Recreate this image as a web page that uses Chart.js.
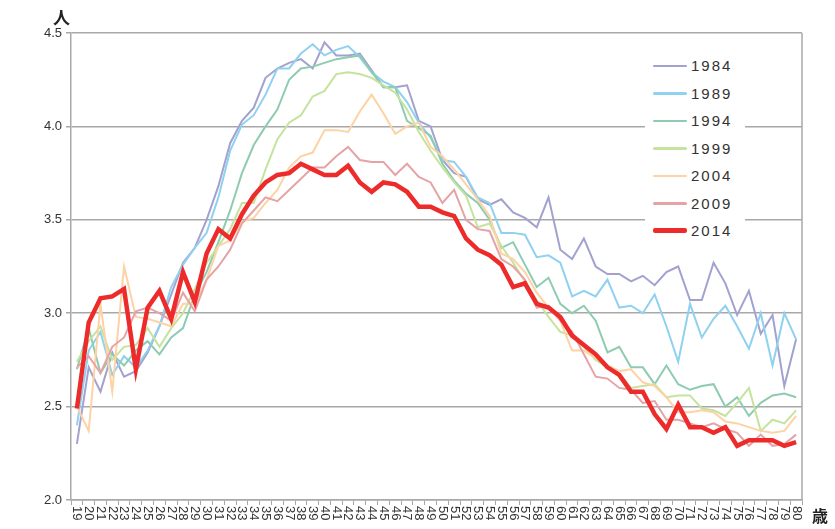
<!DOCTYPE html>
<html lang="ja">
<head>
<meta charset="utf-8"/>
<title>年齢別 平均世帯人員</title>
<script src="https://cdn.jsdelivr.net/npm/chart.js"></script>
<style>
  body { margin: 0; background: #fff; font-family: "Liberation Sans", "Noto Sans", sans-serif; }
  #wrap { position: relative; width: 835px; height: 529px; }
  #unitY { position: absolute; left: 53px; top: 4px; font: bold 17px "Noto Sans CJK JP", sans-serif; color: #222; }
  #unitX { position: absolute; left: 812px; top: 503px; font: bold 16px "Noto Sans CJK JP", sans-serif; color: #222; }
  #legend { position: absolute; left: 645px; top: 50px; width: 100px; height: 195px; background: #fff; padding-top: 2px; }
  .row { height: 27.5px; display: flex; align-items: center; }
  .swatch { width: 34px; margin-left: 8px; margin-right: 4px; border-radius: 2px; }
  .lbl { font-size: 15px; letter-spacing: 2px; color: #333; }
</style>
</head>
<body>
<div id="wrap">
  <canvas id="grafik" width="835" height="529"></canvas>
  <div id="unitY">人</div>
  <div id="unitX">歳</div>
  <div id="legend"></div>
</div>
<script>
  // 年齢 (カテゴリ)
  const yaslar = [19,20,21,22,23,24,25,26,27,28,29,30,31,32,33,34,35,36,37,38,39,
    40,41,42,43,44,45,46,47,48,49,50,51,52,53,54,55,56,57,58,59,60,
    61,62,63,64,65,66,67,68,69,70,71,72,73,74,75,76,77,78,79,80];

  const yillar = ['1984', '1989', '1994', '1999', '2004', '2009', '2014'];
  const renkler = ['#a2a1cf', '#8fd1ef', '#8ecbb0', '#c6e39e', '#fdd2a4', '#e6a3a5', '#ee2b2b'];

  const v1984 = [2.30,2.71,2.58,2.79,2.66,2.69,2.79,2.93,3.10,3.27,3.35,
    3.50,3.68,3.91,4.03,4.10,4.26,4.31,4.34,4.36,4.31,
    4.45,4.38,4.38,4.39,4.30,4.21,4.21,4.22,4.03,4.00,
    3.82,3.75,3.73,3.61,3.58,3.61,3.54,3.51,3.46,3.62,
    3.34,3.29,3.40,3.25,3.21,3.21,3.17,3.20,3.15,3.22,
    3.25,3.07,3.07,3.27,3.16,2.99,3.12,2.89,2.99,2.61,2.86];
  const v1989 = [2.40,2.80,2.90,2.67,2.77,2.71,2.80,2.93,3.14,3.26,3.35,
    3.43,3.62,3.87,4.01,4.06,4.17,4.31,4.31,4.39,4.44,
    4.38,4.41,4.43,4.37,4.29,4.24,4.21,4.13,4.02,3.94,
    3.82,3.81,3.73,3.62,3.59,3.43,3.43,3.42,3.30,3.31,
    3.27,3.09,3.12,3.09,3.18,3.03,3.04,3.00,3.10,2.93,
    2.74,3.05,2.87,2.97,3.04,2.93,2.81,3.00,2.72,3.00,2.86];
  const v1994 = [2.70,2.92,2.68,2.78,2.72,2.80,2.85,2.78,2.87,2.92,3.10,
    3.22,3.38,3.55,3.75,3.90,4.00,4.09,4.25,4.31,4.32,
    4.34,4.36,4.37,4.38,4.29,4.21,4.21,4.03,3.99,3.95,
    3.80,3.71,3.64,3.59,3.50,3.35,3.38,3.26,3.14,3.19,
    3.05,3.00,3.04,2.96,2.79,2.82,2.71,2.71,2.62,2.72,
    2.62,2.59,2.61,2.62,2.50,2.55,2.45,2.52,2.56,2.57,2.55];
  const v1999 = [2.74,2.85,2.93,2.75,2.82,2.83,2.92,2.82,2.92,3.00,3.13,
    3.27,3.36,3.45,3.59,3.59,3.77,3.93,4.02,4.06,4.16,
    4.19,4.28,4.29,4.28,4.26,4.22,4.18,4.09,3.97,3.87,
    3.78,3.70,3.63,3.46,3.48,3.36,3.27,3.17,3.07,2.98,
    2.90,2.88,2.82,2.75,2.71,2.68,2.60,2.61,2.62,2.55,
    2.56,2.56,2.49,2.48,2.45,2.52,2.60,2.37,2.43,2.41,2.48];
  const v2004 = [2.50,2.37,3.05,2.58,3.25,2.98,2.97,2.95,2.93,3.05,3.05,
    3.18,3.36,3.39,3.49,3.51,3.59,3.66,3.78,3.84,3.86,
    3.98,3.98,3.97,4.08,4.17,4.07,3.96,4.00,4.02,3.89,
    3.84,3.77,3.69,3.61,3.52,3.32,3.29,3.22,3.11,3.03,
    2.96,2.80,2.80,2.76,2.72,2.69,2.70,2.63,2.61,2.55,
    2.47,2.47,2.48,2.47,2.42,2.41,2.39,2.37,2.36,2.37,2.45];
  const v2009 = [2.71,2.77,2.68,2.82,2.87,3.01,3.03,3.00,2.96,3.11,3.01,
    3.18,3.25,3.34,3.48,3.55,3.62,3.60,3.66,3.72,3.78,
    3.78,3.84,3.89,3.82,3.81,3.81,3.74,3.80,3.73,3.70,
    3.59,3.66,3.50,3.45,3.44,3.29,3.25,3.18,3.03,3.04,
    2.96,2.90,2.78,2.66,2.65,2.60,2.59,2.52,2.53,2.43,
    2.43,2.41,2.39,2.41,2.38,2.36,2.29,2.35,2.29,2.30,2.35];
  const v2014 = [2.49,2.95,3.08,3.09,3.13,2.70,3.03,3.12,2.97,3.22,3.06,
    3.32,3.45,3.40,3.53,3.63,3.70,3.74,3.75,3.80,3.77,
    3.74,3.74,3.79,3.70,3.65,3.70,3.69,3.65,3.57,3.57,
    3.54,3.52,3.40,3.34,3.31,3.26,3.14,3.16,3.05,3.03,
    2.98,2.88,2.83,2.78,2.71,2.67,2.58,2.58,2.46,2.38,
    2.51,2.39,2.39,2.36,2.39,2.29,2.32,2.32,2.32,2.29,2.31];

  const seriler = [v1984, v1989, v1994, v1999, v2004, v2009, v2014];
  const yTikler = [2.0, 2.5, 3.0, 3.5, 4.0, 4.5];

  const datasets = seriler.map((s, i) => ({
    label: yillar[i],
    data: s,
    borderColor: renkler[i],
    borderWidth: i === 6 ? 4.5 : 2,
    pointRadius: 0,
    tension: 0,
    fill: false,
    order: 6 - i
  }));

  // 縦書きの年齢ラベルと右枠線
  const ekstra = {
    id: 'ekstra',
    afterDraw(chart) {
      const ctx = chart.ctx, a = chart.chartArea, xs = chart.scales.x;
      ctx.save();
      ctx.strokeStyle = '#a8a8a8';
      ctx.lineWidth = 1.5;
      ctx.beginPath();
      ctx.moveTo(a.right, a.top);
      ctx.lineTo(a.right, a.bottom);
      ctx.stroke();
      ctx.fillStyle = '#333';
      ctx.font = '13px "Liberation Sans", sans-serif';
      ctx.textAlign = 'left';
      ctx.textBaseline = 'middle';
      yaslar.forEach((y, i) => {
        ctx.save();
        ctx.translate(xs.getPixelForTick(i), a.bottom + 6);
        ctx.rotate(Math.PI / 2);
        ctx.fillText(String(y), 0, 0);
        ctx.restore();
      });
      ctx.restore();
    }
  };

  new Chart(document.getElementById('grafik'), {
    type: 'line',
    data: { labels: yaslar, datasets: datasets },
    options: {
      responsive: false,
      animation: false,
      layout: { padding: { top: 33, right: 33, left: 0, bottom: 0 } },
      plugins: { legend: { display: false }, tooltip: { enabled: false } },
      scales: {
        x: {
          type: 'category',
          offset: true,
          grid: { drawOnChartArea: false, drawTicks: true, tickLength: 5, color: '#a8a8a8', offset: true },
          border: { color: '#a8a8a8', width: 1.5 },
          ticks: { display: false },
          afterFit(s) { s.height = 29; }
        },
        y: {
          min: 2, max: 4.5,
          afterBuildTicks(s) { s.ticks = yTikler.map(v => ({ value: v })); },
          ticks: {
            callback: v => v.toFixed(1),
            color: '#333',
            font: { size: 13, family: '"Liberation Sans", sans-serif' },
            padding: 4
          },
          grid: { color: '#a8a8a8', lineWidth: 1.5, tickLength: 5 },
          border: { color: '#a8a8a8', width: 1.5 },
          afterFit(s) { s.width = 71; }
        }
      }
    },
    plugins: [ekstra]
  });

  // 凡例
  const lg = document.getElementById('legend');
  yillar.forEach((y, i) => {
    const r = document.createElement('div');
    r.className = 'row';
    r.innerHTML = '<div class="swatch" style="height:' + (i === 6 ? 5 : 2.5) + 'px;background:' + renkler[i] + '"></div><span class="lbl">' + y + '</span>';
    lg.appendChild(r);
  });
</script>
</body>
</html>
